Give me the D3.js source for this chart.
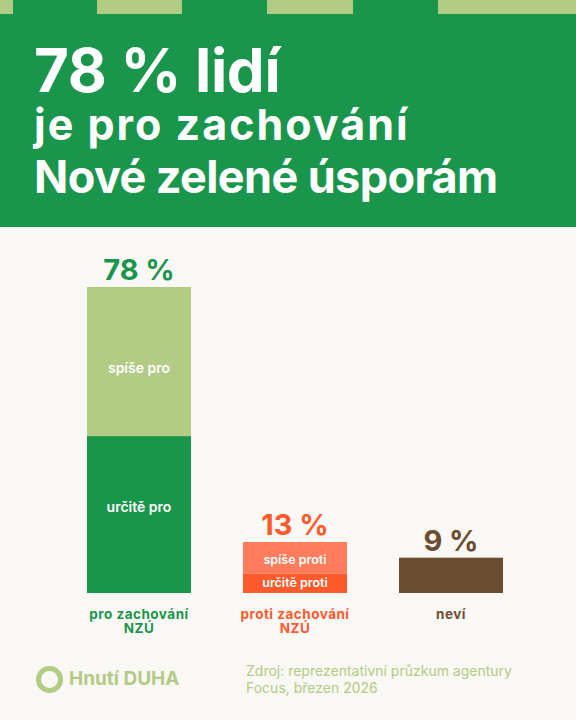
<!DOCTYPE html>
<html><head><meta charset="utf-8">
<script src="https://cdn.jsdelivr.net/npm/d3@7"></script>
<style>html,body{margin:0;padding:0;background:#faf8f4;}svg{display:block;}</style>
</head><body>
<script>
const categories = ["pro zachování NZÚ", "proti zachování NZÚ", "neví"];
const totals = [78, 13, 9];
const strongValues = [40, 5, 9];
const weakValues = [38, 8, 0];
const strongLabels = ["určitě pro", "určitě proti", ""];
const weakLabels = ["spíše pro", "spíše proti", ""];
const titleLines = ["78 % lidí", "je pro zachování", "Nové zelené úsporám"];
const sourceLines = ["Zdroj: reprezentativní průzkum agentury", "Focus, březen 2026"];

const W = 576, H = 720;
const svg = d3.select("body").append("svg").attr("width", W).attr("height", H);
svg.append("rect").attr("width", W).attr("height", H).attr("fill", "#faf8f4");

// header
const green = "#1a954c", lightGreen = "#b2cb85";
svg.append("rect").attr("width", W).attr("height", 227).attr("fill", green);
[[0,13],[97,182],[267,353],[438,576]].forEach(([a,b]) =>
  svg.append("rect").attr("x", a).attr("y", 0).attr("width", b - a).attr("height", 14).attr("fill", lightGreen));
const tfont = "Inter, 'Liberation Sans', sans-serif";
const titleStyle = [[92, 60, -0.3], [140, 43, 2.0], [193, 45, -0.6]];
titleLines.forEach((t, k) => {
  svg.append("text").attr("x", 34).attr("y", titleStyle[k][0]).attr("fill", "#fff").attr("font-family", tfont)
    .attr("font-weight", 700).attr("font-size", titleStyle[k][1]).attr("letter-spacing", titleStyle[k][2]).text(t);
});

// chart
const x = d3.scaleBand().domain(categories).range([9, 581]).paddingInner(1 / 3).paddingOuter(0.5);
const y = d3.scaleLinear().domain([0, 78]).range([593, 287]);
const strongCol = [green, "#ff5a2c", "#6b4d31"];
const weakCol = [lightGreen, "#ff7c5c", "#6b4d31"];
const textCol = [green, "#ff5a2c", "#6b4d31"];
const lfont = "Inter, 'Open Sans', sans-serif";

categories.forEach((c, i) => {
  const x0 = x(c), bw = x.bandwidth(), cx = x0 + bw / 2;
  const ys = y(strongValues[i]);
  svg.append("rect").attr("x", x0).attr("y", ys).attr("width", bw).attr("height", y(0) - ys).attr("fill", strongCol[i]);
  if (weakValues[i] > 0) {
    const yw = y(strongValues[i] + weakValues[i]);
    svg.append("rect").attr("x", x0).attr("y", yw).attr("width", bw).attr("height", ys - yw).attr("fill", weakCol[i]);
    const bigBar = totals[i] > 30;
    const fs = bigBar ? 14 : 12.5;
    svg.append("text").attr("x", cx).attr("y", bigBar ? (yw + ys) / 2 + 11 : (yw + ys) / 2 + 6.5)
      .attr("text-anchor", "middle").attr("fill", "#fff").attr("font-family", lfont).attr("font-weight", 600)
      .attr("font-size", fs).text(weakLabels[i]);
    svg.append("text").attr("x", cx).attr("y", bigBar ? (ys + y(0)) / 2 - 3 : (ys + y(0)) / 2 + 3.5)
      .attr("text-anchor", "middle").attr("fill", "#fff").attr("font-family", lfont).attr("font-weight", 600)
      .attr("font-size", fs).text(strongLabels[i]);
  }
  const yt = y(totals[i]);
  svg.append("text").attr("x", cx).attr("y", yt - 7).attr("text-anchor", "middle").attr("fill", textCol[i])
    .attr("font-family", lfont).attr("font-weight", 700).attr("font-size", 29).text(totals[i] + " %");
  const parts = c.endsWith(" NZÚ") ? [c.slice(0, -4), "NZÚ"] : [c];
  parts.forEach((p, k) => {
    svg.append("text").attr("x", cx).attr("y", 618.5 + k * 14.5).attr("text-anchor", "middle").attr("fill", textCol[i])
      .attr("font-family", lfont).attr("font-weight", 700).attr("font-size", 13.5).attr("letter-spacing", 0.5).text(p);
  });
});

// footer
svg.append("circle").attr("cx", 49.5).attr("cy", 679.5).attr("r", 11).attr("fill", "none")
  .attr("stroke", lightGreen).attr("stroke-width", 5);
svg.append("text").attr("x", 69).attr("y", 685).attr("fill", lightGreen).attr("font-family", lfont)
  .attr("font-weight", 700).attr("font-size", 19).text("Hnutí DUHA");
sourceLines.forEach((s, k) => {
  svg.append("text").attr("x", 246).attr("y", 676 + k * 17).attr("fill", lightGreen).attr("font-family", lfont)
    .attr("font-size", 14).text(s);
});
</script>
</body></html>
